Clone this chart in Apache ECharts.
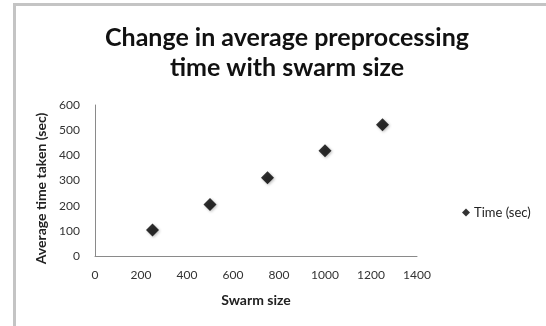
<!DOCTYPE html>
<html><head><meta charset="utf-8">
<script src="https://cdn.jsdelivr.net/npm/echarts@6/dist/echarts.min.js"></script>
<style>html,body{margin:0;padding:0;background:#fff}#c{width:546px;height:326px}</style>
</head><body><div id="c"></div>
<script>
var swarmSize = [250, 500, 750, 1000, 1250];
var timeSec = [103, 205, 311, 418, 522];
var seriesName = 'Time (sec)';
var titleText = 'Change in average preprocessing\ntime with swarm size';
var xName = 'Swarm size';
var yName = 'Average time taken (sec)';

var chart = echarts.init(document.getElementById('c'));
var font = 'Lato, "Open Sans", sans-serif';
chart.setOption({
  animation: false,
  backgroundColor: '#fff',
  title: {
    text: titleText, left: 282, top: 18, textAlign: 'center',
    textStyle: {fontFamily: font, fontSize: 25, fontWeight: 'bold', color: '#111', lineHeight: 30}
  },
  legend: {
    data: [{name: seriesName, icon: 'diamond'}],
    left: 457, top: 201, itemWidth: 8, itemHeight: 8, itemGap: 4,
    textStyle: {fontFamily: font, fontSize: 13, color: '#222', padding: [0, 0, 0, -1]}
  },
  graphic: [
    {type: 'rect', shape: {x: 13, y: 3, width: 540, height: 3}, style: {fill: '#c4c4c4'}, silent: true},
    {type: 'rect', shape: {x: 13, y: 3, width: 3, height: 330}, style: {fill: '#c4c4c4'}, silent: true}
  ],
  grid: {left: 95, right: 129, top: 105, bottom: 70},
  xAxis: {
    type: 'value', min: 0, max: 1400, interval: 200,
    name: xName, nameLocation: 'middle', nameGap: 37,
    nameTextStyle: {fontFamily: font, fontSize: 14, fontWeight: 'bold', color: '#222'},
    axisLine: {show: true, lineStyle: {color: '#8a8a8a', width: 1}},
    axisTick: {show: false}, splitLine: {show: false},
    axisLabel: {fontFamily: font, fontSize: 12, color: '#333', margin: 13, formatter: function (v) { return String(v); }}
  },
  yAxis: {
    type: 'value', min: 0, max: 600, interval: 100,
    name: yName, nameLocation: 'middle', nameGap: 43, nameRotate: 90,
    nameTextStyle: {fontFamily: font, fontSize: 14, fontWeight: 'bold', color: '#222', padding: [0, 0, 0, -16]},
    axisLine: {show: true, lineStyle: {color: '#8a8a8a', width: 1}},
    axisTick: {show: false}, splitLine: {show: false},
    axisLabel: {fontFamily: font, fontSize: 12, color: '#333', margin: 15}
  },
  series: [{
    name: seriesName, type: 'scatter', symbol: 'diamond', symbolSize: 13,
    itemStyle: {color: '#000', shadowColor: 'rgba(0,0,0,0.35)', shadowBlur: 3, shadowOffsetX: 1, shadowOffsetY: 1},
    data: swarmSize.map(function (x, i) { return [x, timeSec[i]]; })
  }]
});
</script></body></html>
